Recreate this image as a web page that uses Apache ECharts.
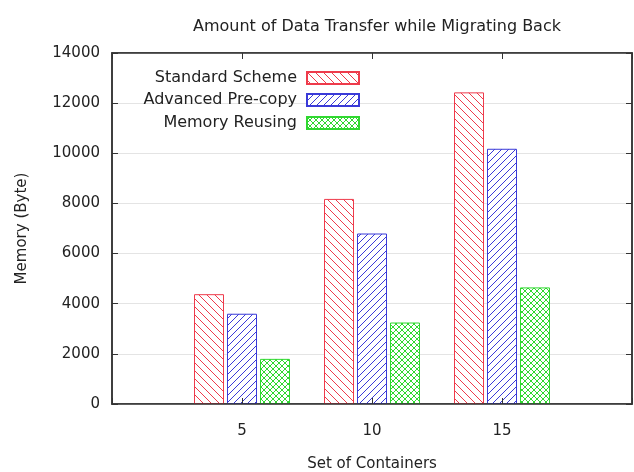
<!DOCTYPE html>
<html>
<head>
<meta charset="utf-8">
<script src="https://cdn.jsdelivr.net/npm/echarts@6/dist/echarts.min.js"></script>
<style>
  html,body{margin:0;padding:0;background:#fff;}
  #chart{width:634px;height:472px;}
</style>
</head>
<body>
<div id="chart"></div>
<script>
// ===== data =====
const categories = ['5', '10', '15'];
const standardScheme = [4380, 8180, 12430];
const advancedPrecopy = [3600, 6800, 10180];
const memoryReusing = [1800, 3250, 4650];
const yTicks = [0, 2000, 4000, 6000, 8000, 10000, 12000, 14000];

// ===== hatch patterns =====
function hatch(color, size, dirs){
  const c = document.createElement('canvas');
  c.width = size; c.height = size;
  const g = c.getContext('2d');
  g.fillStyle = '#fff'; g.fillRect(0, 0, size, size);
  g.strokeStyle = color; g.lineWidth = 1;
  g.beginPath();
  for (const k of [-size, 0, size]) {
    if (dirs.includes('\\')) { g.moveTo(k, 0); g.lineTo(k + size, size); }
    if (dirs.includes('/')) { g.moveTo(k, size); g.lineTo(k + size, 0); }
  }
  g.stroke();
  return {image: c, repeat: 'repeat'};
}

const RED = '#ee3b4b', BLUE = '#3a3ad8', GREEN = '#2fd82f';
const FONT = 'DejaVu Sans';

// pad with empty slots so the axis runs one step past each side
const pad = arr => ['-', ...arr, '-'];
const xCats = ['', ...categories, ''];

const seriesDefs = [
  {name: 'Standard Scheme', data: standardScheme, color: RED, fill: hatch(RED, 8, '\\')},
  {name: 'Advanced Pre-copy', data: advancedPrecopy, color: BLUE, fill: hatch(BLUE, 7, '/')},
  {name: 'Memory Reusing', data: memoryReusing, color: GREEN, fill: hatch(GREEN, 6, '\\/')}
];

const chart = echarts.init(document.getElementById('chart'), null, {renderer: 'canvas'});

const legendTops = [65, 87, 110];

// ticks point into the plot, drawn over the bars
const tick = () => ({show: true, inside: true, length: 6, lineStyle: {color: '#333', width: 1}});
const yMax = yTicks[yTicks.length - 1], yStep = yTicks[1] - yTicks[0];

chart.setOption({
  animation: false,
  backgroundColor: '#fff',
  textStyle: {fontFamily: FONT},
  title: {
    text: 'Amount of Data Transfer while Migrating Back',
    left: 372, top: 14, textAlign: 'center',
    textStyle: {fontFamily: FONT, fontSize: 16, fontWeight: 'normal', color: '#222'}
  },
  legend: seriesDefs.map((s, i) => ({
    data: [s.name],
    right: 269, top: legendTops[i],
    align: 'right', orient: 'vertical',
    icon: 'rect', itemWidth: 52, itemHeight: 12,
    selectedMode: false,
    textStyle: {fontFamily: FONT, fontSize: 16, color: '#222', padding: [0, 5, 0, 0]}
  })),
  grid: {left: 112, right: 2, top: 53, bottom: 68, outerBoundsMode: 'none', containLabel: false,
         show: true, borderColor: '#333', borderWidth: 1.5},
  xAxis: [{
    type: 'category', data: xCats, boundaryGap: false, z: 5,
    name: 'Set of Containers', nameLocation: 'middle', nameGap: 53,
    nameTextStyle: {fontFamily: FONT, fontSize: 15, color: '#222'},
    axisLine: {onZero: false, lineStyle: {color: '#333', width: 1.5}},
    axisTick: tick(),
    axisLabel: {margin: 20, fontFamily: FONT, fontSize: 15, color: '#222'},
    splitLine: {show: false}
  }, {
    type: 'category', data: xCats, boundaryGap: false, position: 'top', z: 5,
    axisLine: {onZero: false, lineStyle: {color: '#333', width: 1.5}},
    axisTick: tick(),
    axisLabel: {show: false}, splitLine: {show: false}
  }],
  yAxis: [{
    type: 'value', min: 0, max: yMax, interval: yStep, z: 5, position: 'left',
    name: 'Memory (Byte)', nameLocation: 'middle', nameGap: 82,
    nameTextStyle: {fontFamily: FONT, fontSize: 15, color: '#222'},
    axisLine: {show: true, lineStyle: {color: '#333', width: 1.5}},
    axisTick: tick(),
    axisLabel: {margin: 12, fontFamily: FONT, fontSize: 15, color: '#222', formatter: v => String(v)},
    splitLine: {show: false}
  }, {
    type: 'value', min: 0, max: yMax, interval: yStep, z: 5, position: 'right',
    axisLine: {show: true, lineStyle: {color: '#333', width: 1.5}},
    axisTick: tick(),
    axisLabel: {show: false}, splitLine: {show: false}
  }, {
    // grid lines only, kept under the bars
    type: 'value', min: 0, max: yMax, interval: yStep, z: 0, position: 'left',
    axisLine: {show: false}, axisTick: {show: false}, axisLabel: {show: false},
    splitLine: {show: true, lineStyle: {color: '#e4e4e4', width: 1}}
  }],
  series: seriesDefs.map(s => ({
    name: s.name, type: 'bar', data: pad(s.data),
    barWidth: 30, barGap: '10%',
    itemStyle: {color: s.fill, borderColor: s.color, borderWidth: 1}
  }))
});

window.addEventListener('resize', () => chart.resize());
</script>
</body>
</html>
